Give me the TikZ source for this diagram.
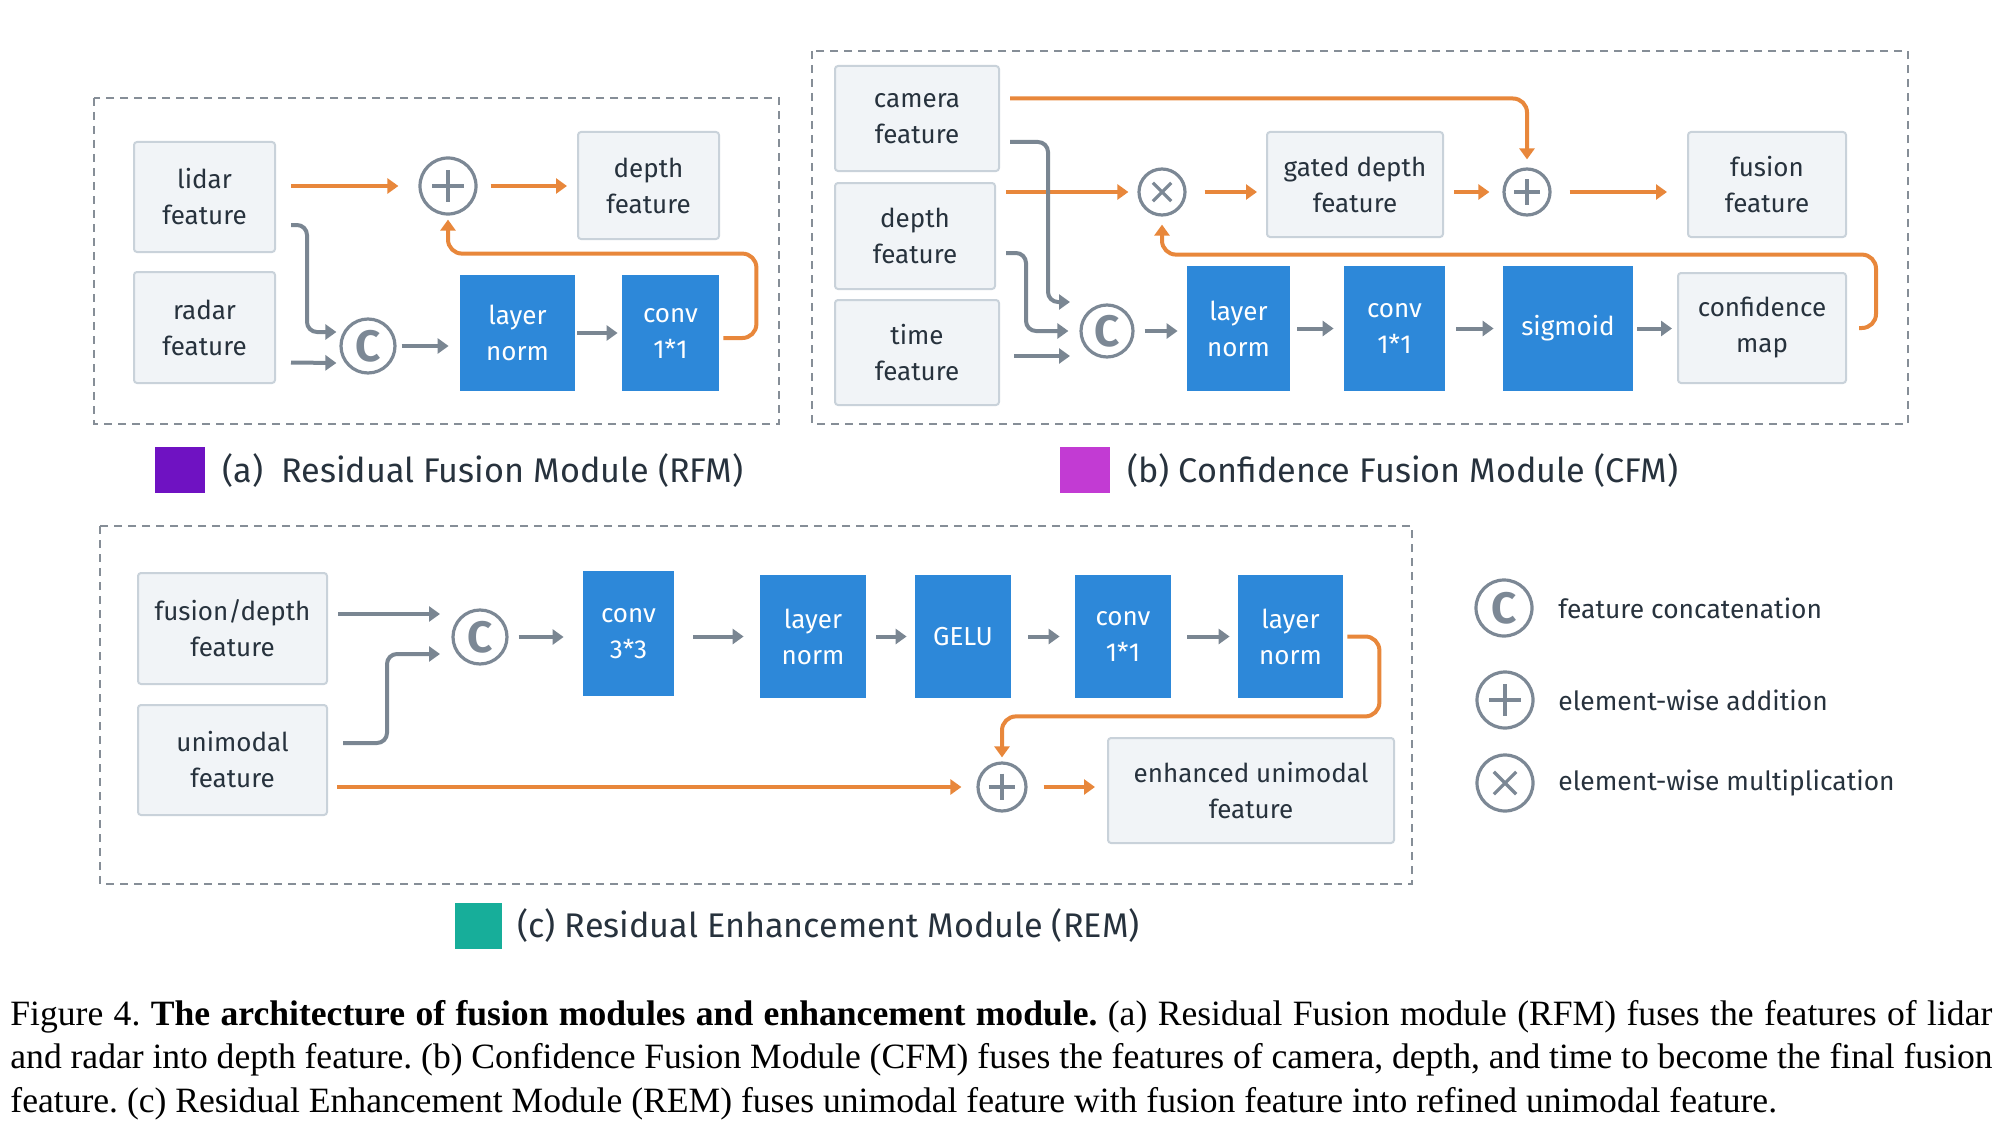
\documentclass[tikz,border=0pt]{standalone}
\usepackage{fontspec}
\setmainfont{Liberation Serif}
\newfontfamily\diagfont{Fira Sans}
\usetikzlibrary{arrows.meta,calc}
\definecolor{boxfill}{HTML}{F1F4F7}
\definecolor{boxline}{HTML}{C9D2DA}
\definecolor{ink}{HTML}{27323D}
\definecolor{blockblue}{HTML}{2D88D9}
\definecolor{opgrey}{HTML}{7C8895}
\definecolor{arrgrey}{HTML}{7A8692}
\definecolor{arrorange}{HTML}{E8873B}
\definecolor{dashgrey}{HTML}{868E97}
\definecolor{rfmpurple}{HTML}{6F12C2}
\definecolor{cfmpink}{HTML}{C23BD3}
\definecolor{remteal}{HTML}{17AE9A}
\begin{document}
\begin{tikzpicture}[x=0.5pt, y=-0.5pt,
  feat/.style={draw=boxline, fill=boxfill, line width=1pt, rounded corners=1.5pt, align=center,
    text=ink, inner sep=0pt, font=\diagfont\fontsize{13}{18}\selectfont},
  blk/.style={fill=blockblue, text=white, align=center, inner sep=0pt,
    font=\diagfont\fontsize{13}{18}\selectfont},
  ring/.style={circle, draw=opgrey, line width=1.6pt, inner sep=0pt, minimum size=#1},
  ring/.default=23pt,
  addop/.style={ring=#1, path picture={
    \draw[opgrey, line width=1.6pt]
      ($(path picture bounding box.west)!0.22!(path picture bounding box.east)$) --
      ($(path picture bounding box.west)!0.78!(path picture bounding box.east)$)
      ($(path picture bounding box.north)!0.22!(path picture bounding box.south)$) --
      ($(path picture bounding box.north)!0.78!(path picture bounding box.south)$);}},
  addop/.default=23pt,
  mulop/.style={ring=#1, path picture={
    \draw[opgrey, line width=1.6pt]
      ($(path picture bounding box.north west)!0.3!(path picture bounding box.south east)$) --
      ($(path picture bounding box.north west)!0.7!(path picture bounding box.south east)$)
      ($(path picture bounding box.north east)!0.3!(path picture bounding box.south west)$) --
      ($(path picture bounding box.north east)!0.7!(path picture bounding box.south west)$);}},
  mulop/.default=23pt,
  catop/.style={ring=#1, text=opgrey, font=\diagfont\bfseries\fontsize{22}{22}\selectfont},
  catop/.default=27pt,
  garr/.style={draw=arrgrey, line width=2pt, rounded corners=5pt,
    -{Triangle[length=5.5pt,width=7.5pt]}},
  oarr/.style={draw=arrorange, line width=2pt, rounded corners=7pt,
    -{Triangle[length=5.5pt,width=7.5pt]}},
  frame/.style={draw=dashgrey, line width=1.1pt, dash pattern=on 4pt off 3pt},
  swatch/.style={inner sep=0pt, minimum width=25pt, minimum height=23pt},
  tag/.style={anchor=west, inner sep=0pt, text=ink, font=\diagfont\fontsize{17.1}{17.1}\selectfont},
  keytext/.style={anchor=west, inner sep=0pt, text=ink, font=\diagfont\fontsize{13.2}{13.2}\selectfont}]
\useasboundingbox (0,0) rectangle (2002,1145);

% (a) residual fusion module
\draw[frame] (94,98) rectangle (779,424);
\node[feat, minimum width=70.5pt, minimum height=55pt] (lidar) at (204.5,197) {lidar\\feature};
\node[feat, minimum width=70.5pt, minimum height=55.5pt] (radar) at (204.5,327.5) {radar\\feature};
\node[addop=28pt] (addA) at (448,186) {};
\node[feat, minimum width=70.5pt, minimum height=53.5pt] (depthA) at (648.5,185.5) {depth\\feature};
\node[catop=27pt] (catA) at (368,346) {C};
\node[blk, minimum width=57.5pt, minimum height=58pt] (lnA) at (517.5,333) {layer\\norm};
\node[blk, minimum width=48.5pt, minimum height=58pt] (convA) at (670.5,333) {conv\\1*1};

\draw[oarr, shorten <=7.5pt, shorten >=10pt] (lidar.east |- addA.west) -- (addA.west);
\draw[oarr, shorten <=6.5pt, shorten >=5pt] (addA.east) -- (addA.east -| depthA.west);
\draw[garr] ([shift={(7.5pt,-14pt)}]lidar.east) -- ++(8pt,0) |- ([shift={(-1.5pt,7pt)}]catA.west);
\draw[garr] ([shift={(7.5pt,-17.5pt)}]radar.east) -- ([shift={(-1.5pt,-8.5pt)}]catA.west);
\draw[garr, shorten <=2.5pt, shorten >=5.5pt] (catA.east) -- (catA.east -| lnA.west);
\draw[garr, shorten <=1pt, shorten >=2pt] (lnA.east) -- (convA.west);
\draw[oarr, shorten >=2pt] ([shift={(2pt,-2.5pt)}]convA.east) -- ++(16.5pt,0)
  |- ([yshift=-19pt]addA.south) -- (addA.south);

\node[swatch, fill=rfmpurple] (swA) at (180,470) {};
\node[tag] (tagA) at (222,471) {(a)\ \ Residual Fusion Module (RFM)};

% (b) confidence fusion module
\draw[frame] (812,51) rectangle (1908,424);
\node[feat, minimum width=82pt, minimum height=52.5pt] (camera) at (917,118.5) {camera\\feature};
\node[feat, minimum width=80pt, minimum height=53pt] (depthB) at (915,236) {depth\\feature};
\node[feat, minimum width=82pt, minimum height=52.5pt] (time) at (917,352.5) {time\\feature};
\node[mulop=23pt] (mulB) at (1162,192) {};
\node[feat, minimum width=88pt, minimum height=52.5pt] (gated) at (1355,184.5) {gated depth\\feature};
\node[addop=23pt] (addB) at (1527,192) {};
\node[feat, minimum width=79pt, minimum height=52.5pt] (fusion) at (1767,184.5) {fusion\\feature};
\node[catop=26pt] (catB) at (1107,331) {C};
\node[blk, minimum width=51.5pt, minimum height=62.5pt] (lnB) at (1238.5,328.5) {layer\\norm};
\node[blk, minimum width=50.5pt, minimum height=62.5pt] (convB) at (1394.5,328.5) {conv\\1*1};
\node[blk, minimum width=65pt, minimum height=62.5pt] (sig) at (1568,328.5) {sigmoid};
\node[feat, minimum width=84pt, minimum height=55pt] (conf) at (1762,328) {confidence\\map};

\draw[oarr, shorten >=4pt] ([shift={(5pt,10pt)}]camera.east) -| (addB.north);
\draw[oarr, shorten <=5pt, shorten >=4.5pt] (depthB.east |- mulB.west) -- (mulB.west);
\draw[oarr, shorten <=9pt, shorten >=4.5pt] (mulB.east) -- (mulB.east -| gated.west);
\draw[oarr, shorten <=5pt, shorten >=6.5pt] (gated.east |- addB.west) -- (addB.west);
\draw[oarr, shorten <=9pt, shorten >=10pt] (addB.east) -- (addB.east -| fusion.west);
\draw[garr] ([shift={(5pt,-11.75pt)}]camera.east) -- ++(19pt,0) |- ([shift={(-18.5pt,14.5pt)}]catB.center);
\draw[garr] ([shift={(5pt,-8.5pt)}]depthB.east) -- ++(10pt,0) |- ([xshift=-5.5pt]catB.west);
\draw[garr] ([shift={(7pt,-1.75pt)}]time.east) -- ([shift={(-18.5pt,-12.5pt)}]catB.center);
\draw[garr, shorten <=5pt, shorten >=4.5pt] (catB.east) -- (catB.east -| lnB.west);
\draw[garr, shorten <=3.5pt, shorten >=5pt] (lnB.east) -- (convB.west);
\draw[garr, shorten <=5.5pt, shorten >=4.5pt] (convB.east) -- (sig.west);
\draw[garr, shorten <=2pt, shorten >=2.5pt] (sig.east) -- (sig.east -| conf.west);
\draw[oarr, shorten >=4pt] ([xshift=6pt]conf.east) -- ++(8.5pt,0)
  |- ([yshift=-19pt]mulB.south) -- (mulB.south);

\node[swatch, fill=cfmpink] (swB) at (1085,470) {};
\node[tag] (tagB) at (1127,471) {(b) Confidence Fusion Module (CFM)};

% (c) residual enhancement module
\draw[frame] (100,526) rectangle (1412,884);
\node[feat, minimum width=94.5pt, minimum height=55.5pt] (fd) at (232.5,628.5) {fusion/depth\\feature};
\node[feat, minimum width=94.5pt, minimum height=55pt] (uni) at (232.5,760) {unimodal\\feature};
\node[catop=27pt] (catC) at (480,637) {C};
\node[blk, minimum width=45.5pt, minimum height=62.5pt] (cA) at (628.5,633.5) {conv\\3*3};
\node[blk, minimum width=53pt, minimum height=61.5pt] (lnC) at (813,636.5) {layer\\norm};
\node[blk, minimum width=48pt, minimum height=61.5pt] (gelu) at (963,636.5) {GELU};
\node[blk, minimum width=48pt, minimum height=61.5pt] (cB) at (1123,636.5) {conv\\1*1};
\node[blk, minimum width=52.5pt, minimum height=61.5pt] (lnD) at (1290.5,636.5) {layer\\norm};
\node[addop=24pt] (addC) at (1002,787) {};
\node[feat, minimum width=143pt, minimum height=52.5pt] (enh) at (1251,790.5) {enhanced unimodal\\feature};

\draw[garr] ([shift={(5pt,7.25pt)}]fd.east) -- ([shift={(-20pt,11.5pt)}]catC.center);
\draw[garr] ([shift={(7.5pt,8.5pt)}]uni.east) -- ++(22pt,0) |- ([shift={(-20pt,-8.5pt)}]catC.center);
\draw[garr, shorten <=5pt, shorten >=9.5pt] (catC.east) -- (catC.east -| cA.west);
\draw[garr, shorten <=9.5pt, shorten >=8pt] (cA.east |- lnC.west) -- (lnC.west);
\draw[garr, shorten <=5pt, shorten >=4pt] (lnC.east) -- (gelu.west);
\draw[garr, shorten <=8.5pt, shorten >=7.5pt] (gelu.east) -- (cB.west);
\draw[garr, shorten <=8pt, shorten >=4pt] (cB.east) -- (lnD.west);
\draw[oarr, shorten >=2pt] ([xshift=2pt]lnD.east) -- ++(16pt,0)
  |- ([yshift=22.5pt]addC.north) -- (addC.north);
\draw[oarr, shorten <=4.5pt, shorten >=7.5pt] (uni.east |- addC.west) -- (addC.west);
\draw[oarr, shorten <=8pt, shorten >=6pt] (addC.east) -- (addC.east -| enh.west);

\node[swatch, fill=remteal, minimum width=23.5pt] (swC) at (478.5,926) {};
\node[tag] (tagC) at (517,926) {(c) Residual Enhancement Module (REM)};

% symbol key
\node[catop=28pt] (catL) at (1504,608) {C};
\node[keytext] (catT) at (1558,608) {feature concatenation};
\node[addop=28pt] (addL) at (1505,700) {};
\node[keytext] (addT) at (1558,700) {element-wise addition};
\node[mulop=28pt] (mulL) at (1505,783) {};
\node[keytext] (mulT) at (1558,783) {element-wise multiplication};

% caption
\node[anchor=north west, inner sep=0pt, text width=991pt, align=justify,
  font=\fontsize{17.8}{21.75}\selectfont\frenchspacing] (cap) at (10,1000)
  {Figure 4. \textbf{The architecture of fusion modules and enhancement module.} (a) Residual Fusion module (RFM) fuses the features of lidar\linebreak
  and radar into depth feature. (b) Confidence Fusion Module (CFM) fuses the features of camera, depth, and time to become the final fusion\linebreak
  feature. (c) Residual Enhancement Module (REM) fuses unimodal feature with fusion feature into refined unimodal feature.};
\end{tikzpicture}
\end{document}
